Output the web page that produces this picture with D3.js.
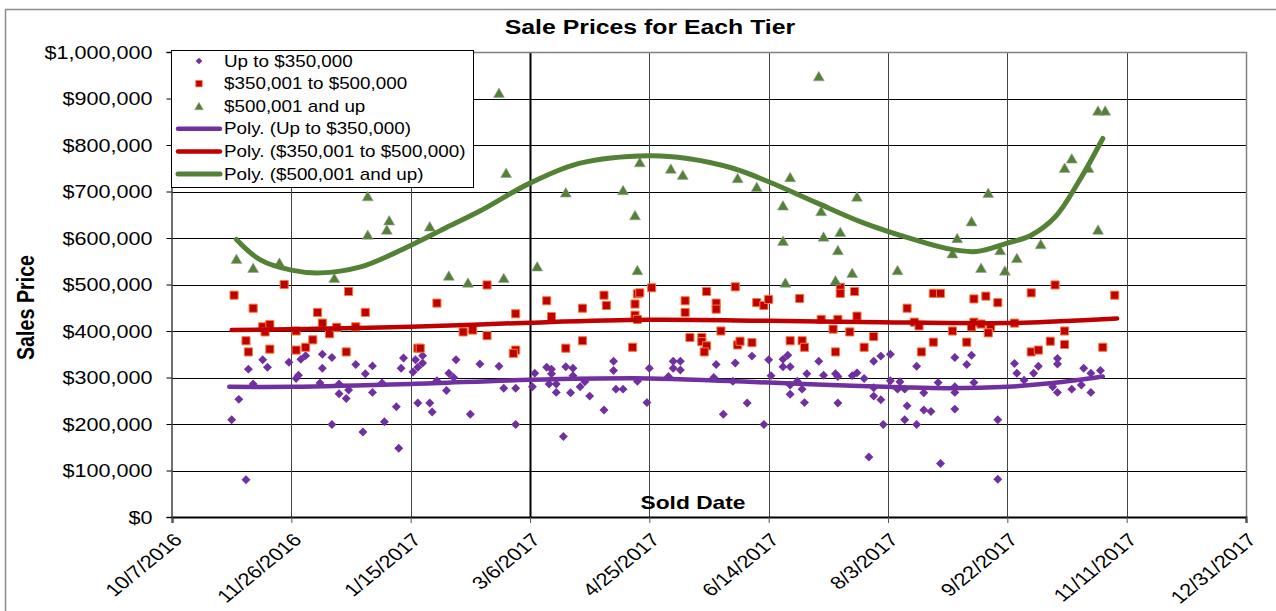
<!DOCTYPE html>
<html>
<head>
<meta charset="utf-8">
<script src="https://cdn.jsdelivr.net/npm/d3@7"></script>
<style>
  body { margin: 0; background: #fff; }
  svg { display: block; }
  text { font-family: "Liberation Sans", Arial, sans-serif; fill: #000; }
</style>
</head>
<body>
<svg id="chart" width="1276" height="611"></svg>
<script>
// sold dates are Excel serial numbers, prices in dollars
var upTo350k = [[42675,209000],[42678,253000],[42681,80000],[42682,318000],[42684,286000],[42688,338000],[42690,322000],[42699,333000],[42702,298000],[42703,305000],[42704,339000],[42706,347000],[42712,288000],[42713,350000],[42713,320000],[42717,343000],[42717,199000],[42720,286000],[42720,265000],[42723,255000],[42724,273000],[42727,328000],[42730,183000],[42731,308000],[42734,325000],[42734,268000],[42738,288000],[42739,205000],[42744,237000],[42745,148000],[42746,320000],[42747,342000],[42751,312000],[42752,338000],[42753,322000],[42753,245000],[42755,347000],[42755,331000],[42758,245000],[42759,226000],[42761,293000],[42765,272000],[42766,309000],[42768,300000],[42769,338000],[42775,221000],[42779,329000],[42787,324000],[42789,277000],[42794,277000],[42794,199000],[42801,280000],[42802,309000],[42807,322000],[42809,318000],[42809,308000],[42808,286000],[42811,286000],[42811,268000],[42815,323000],[42818,320000],[42818,304000],[42817,267000],[42821,280000],[42823,291000],[42825,260000],[42814,173000],[42831,230000],[42835,335000],[42835,315000],[42836,275000],[42839,275000],[42845,292000],[42849,246000],[42850,320000],[42858,302000],[42860,335000],[42860,320000],[42863,335000],[42863,316000],[42878,328000],[42877,300000],[42881,221000],[42886,331000],[42885,292000],[42891,245000],[42893,346000],[42898,199000],[42900,338000],[42901,304000],[42906,339000],[42908,348000],[42906,323000],[42909,323000],[42909,284000],[42909,264000],[42912,292000],[42914,275000],[42915,246000],[42916,308000],[42921,335000],[42923,305000],[42928,308000],[42929,302000],[42929,245000],[42935,304000],[42937,310000],[42940,298000],[42944,335000],[42947,346000],[42951,350000],[42951,293000],[42944,260000],[42947,252000],[42948,199000],[42942,129000],[42944,278000],[42955,291000],[42954,275000],[42957,275000],[42958,239000],[42957,209000],[42962,324000],[42962,199000],[42965,267000],[42965,230000],[42968,227000],[42971,289000],[42972,115000],[42978,343000],[42978,280000],[42978,268000],[42978,232000],[42983,328000],[42985,348000],[42986,289000],[42996,209000],[42996,81000],[43003,330000],[43004,309000],[43007,294000],[43011,309000],[43013,324000],[43019,280000],[43021,341000],[43021,329000],[43021,268000],[43027,275000],[43031,284000],[43032,320000],[43035,309000],[43035,268000],[43039,315000]];

var from350kTo500k = [[42676,477000],[42684,449000],[42688,409000],[42691,414000],[42689,398000],[42681,379000],[42682,355000],[42691,361000],[42697,500000],[42702,400000],[42702,359000],[42706,365000],[42709,381000],[42711,440000],[42713,417000],[42716,394000],[42719,408000],[42723,355000],[42724,485000],[42727,409000],[42731,440000],[42753,363000],[42754,363000],[42761,460000],[42772,398000],[42776,402000],[42782,499000],[42782,390000],[42794,437000],[42794,359000],[42793,352000],[42807,465000],[42809,431000],[42815,363000],[42822,449000],[42822,379000],[42831,477000],[42832,455000],[42844,458000],[42844,434000],[42845,425000],[42843,365000],[42845,480000],[42846,482000],[42851,493000],[42865,465000],[42865,440000],[42867,386000],[42872,386000],[42872,377000],[42874,368000],[42873,355000],[42874,485000],[42878,460000],[42878,447000],[42880,400000],[42886,495000],[42887,370000],[42888,378000],[42893,375000],[42895,461000],[42898,455000],[42900,468000],[42909,379000],[42913,470000],[42914,379000],[42915,365000],[42922,425000],[42927,404000],[42928,355000],[42929,425000],[42930,494000],[42930,481000],[42934,398000],[42936,485000],[42937,432000],[42944,388000],[42940,365000],[42958,449000],[42961,419000],[42963,411000],[42964,355000],[42969,481000],[42972,481000],[42969,376000],[42977,400000],[42983,376000],[42986,469000],[42986,419000],[42985,409000],[42989,415000],[42991,475000],[42993,409000],[42992,396000],[42996,461000],[43003,417000],[43010,482000],[43010,355000],[43013,359000],[43018,378000],[43020,499000],[43024,400000],[43024,371000],[43040,365000],[43045,477000]];

var over500k = [[42677,554000],[42684,535000],[42695,546000],[42718,513000],[42732,689000],[42732,606000],[42741,637000],[42740,617000],[42758,624000],[42766,518000],[42774,503000],[42787,911000],[42789,513000],[42790,739000],[42803,538000],[42815,697000],[42839,702000],[42844,648000],[42846,762000],[42845,530000],[42859,748000],[42864,735000],[42887,728000],[42895,709000],[42909,730000],[42906,669000],[42921,947000],[42922,657000],[42937,688000],[42930,612000],[42923,602000],[42906,593000],[42929,573000],[42907,503000],[42935,524000],[42928,508000],[42954,530000],[42979,599000],[42977,566000],[42997,573000],[43014,586000],[43004,556000],[42989,535000],[42999,529000],[43038,617000],[43038,873000],[43041,873000],[43027,770000],[43024,750000],[43034,750000],[42992,696000],[42985,635000]];

// Poly. trendlines, values
var trendUpTo350k = [[42674,280000],[42700,280000],[42750,286000],[42800,295000],[42850,298000],[42880,293000],[42900,289000],[42935,282000],[42955,279000],[42975,277000],[43000,280000],[43019,288000],[43040,302000]];
var trend350kTo500k = [[42675,402000],[42700,404000],[42750,409000],[42800,418000],[42850,424000],[42900,422000],[42947,419000],[43000,417000],[43022,421000],[43046,427000]];
var trendOver500k = [[42677,597000],[42687,553000],[42700,531000],[42712,525000],[42729,538000],[42743,567000],[42754,594000],[42764,620000],[42779,658000],[42800,718000],[42821,761000],[42850,777000],[42866,771000],[42885,750000],[42900,721000],[42920,676000],[42940,632000],[42960,598000],[42975,577000],[42987,571000],[43000,589000],[43010,606000],[43020,645000],[43030,722000],[43040,814000]];

var seriesNames = ['Up to $350,000', '$350,001 to $500,000', '$500,001 and up'];
var xTicks = d3.range(42650, 43101, 50);   // 10/7/2016 ... 12/31/2017
var yTicks = d3.range(0, 1000001, 100000);

var colors = ['#7030a0', '#c00000', '#538135'];
var plot = { left: 172, right: 1246, top: 52, bottom: 517 };

var svg = d3.select('#chart');

var x = d3.scaleLinear().domain([42650, 43100]).range([plot.left, plot.right]);
var y = d3.scaleLinear().domain([0, 1000000]).range([plot.bottom, plot.top]);

// excel serial -> m/d/yyyy
var serialToDate = function(s){
  var d = new Date(Date.UTC(1899, 11, 30) + s * 864e5);
  return (d.getUTCMonth() + 1) + '/' + d.getUTCDate() + '/' + d.getUTCFullYear();
}

// source picture is stretched sideways, so widen text the same way
var stretch = function(sel, sx){
  sel.each(function(){
    var w = this.getComputedTextLength();
    d3.select(this).attr('textLength', w * sx).attr('lengthAdjust', 'spacingAndGlyphs');
  });
}

// outer chart border
svg.append('path').attr('d', 'M5.5,611V9.5H1276')
   .attr('fill', 'none').attr('stroke', '#8c8c8c').attr('stroke-width', 1.5);

// gridlines
svg.append('g').selectAll('line').data(yTicks.slice(1, -1)).enter().append('line')
   .attr('x1', plot.left).attr('x2', plot.right)
   .attr('y1', function(d){ return Math.round(y(d)) + 0.5; })
   .attr('y2', function(d){ return Math.round(y(d)) + 0.5; })
   .attr('stroke', '#000').attr('stroke-width', 1);

svg.append('g').selectAll('line').data(xTicks.slice(1, -1)).enter().append('line')
   .attr('x1', function(d){ return Math.round(x(d)) + 0.5; })
   .attr('x2', function(d){ return Math.round(x(d)) + 0.5; })
   .attr('y1', plot.top).attr('y2', plot.bottom)
   .attr('stroke', function(d){ return d === 42800 ? '#000' : '#444'; })
   .attr('stroke-width', function(d){ return d === 42800 ? 2 : 1; });

// plot frame top / right
svg.append('path').attr('d', 'M' + plot.left + ',' + (plot.top + 0.5) + 'H' + (plot.right + 0.5) + 'V' + plot.bottom)
   .attr('fill', 'none').attr('stroke', '#808080').attr('stroke-width', 1.5);

// y axis
var yAxis = svg.append('g')
   .attr('transform', 'translate(' + (plot.left - 0.5) + ',0)')
   .call(d3.axisLeft(y).tickValues(yTicks).tickFormat(d3.format('$,')).tickSize(5).tickPadding(14));
yAxis.select('.domain').attr('stroke', '#404040').attr('stroke-width', 1.5);
yAxis.selectAll('.tick line').attr('stroke', '#000');
yAxis.selectAll('.tick text').attr('font-size', 17.7).attr('dy', '0.36em')
   .attr('font-family', '"Liberation Sans", Arial, sans-serif').attr('fill', '#000')
   .call(stretch, 1.22);

// x axis
var xAxis = svg.append('g')
   .attr('transform', 'translate(0,' + plot.bottom + ')')
   .call(d3.axisBottom(x).tickValues(xTicks).tickFormat(serialToDate).tickSize(6));
xAxis.select('.domain').attr('stroke', '#000').attr('stroke-width', 2);
xAxis.selectAll('.tick line').attr('stroke', '#555');
xAxis.selectAll('.tick text')
   .attr('font-size', 18).attr('font-family', '"Liberation Sans", Arial, sans-serif').attr('fill', '#000')
   .attr('text-anchor', 'end').attr('y', 0).attr('dy', 0)
   .attr('transform', 'translate(11,24) scale(1.22,1) rotate(-45)');

// markers
var diamond = d3.symbol(d3.symbolSquare, 40)();
var square = d3.symbol(d3.symbolSquare, 66)();
var triangle = d3.symbol(d3.symbolTriangle, 52)();

svg.append('g').selectAll('path').data(upTo350k).enter().append('path')
   .attr('d', diamond)
   .attr('transform', function(d){ return 'translate(' + x(d[0]) + ',' + y(d[1]) + ') rotate(45)'; })
   .attr('fill', colors[0]);

svg.append('g').selectAll('path').data(from350kTo500k).enter().append('path')
   .attr('d', square)
   .attr('transform', function(d){ return 'translate(' + x(d[0]) + ',' + y(d[1]) + ')'; })
   .attr('fill', colors[1]).attr('stroke', '#f47b3a').attr('stroke-width', 1);

svg.append('g').selectAll('path').data(over500k).enter().append('path')
   .attr('d', triangle)
   .attr('transform', function(d){ return 'translate(' + x(d[0]) + ',' + (y(d[1]) + 1) + ')'; })
   .attr('fill', colors[2]).attr('stroke', '#a0a0a0').attr('stroke-width', 0.6);

// trendlines
var line = d3.line().curve(d3.curveCatmullRom)
   .x(function(d){ return x(d[0]); }).y(function(d){ return y(d[1]); });
[trendUpTo350k, trend350kTo500k, trendOver500k].forEach(function(pts, i){
  svg.append('path').datum(pts).attr('d', line)
     .attr('fill', 'none').attr('stroke', colors[i])
     .attr('stroke-width', i === 2 ? 5 : 4.5).attr('stroke-linecap', 'round');
});

// titles
svg.append('text').attr('x', 650).attr('y', 34).attr('text-anchor', 'middle')
   .attr('font-size', 20).attr('font-weight', 'bold').text('Sale Prices for Each Tier')
   .call(stretch, 1.24);

svg.append('text').attr('x', 693).attr('y', 509).attr('text-anchor', 'middle')
   .attr('font-size', 18.5).attr('font-weight', 'bold').text('Sold Date')
   .call(stretch, 1.23);

svg.append('text').attr('text-anchor', 'middle')
   .attr('transform', 'translate(33.5,307.5) scale(1.22,1) rotate(-90)')
   .attr('font-size', 19.7).attr('font-weight', 'bold').text('Sales Price');

// legend
var legend = svg.append('g');
legend.append('rect').attr('x', 171.5).attr('y', 50.5).attr('width', 302).attr('height', 137)
   .attr('fill', '#fff').attr('stroke', '#000').attr('stroke-width', 1);

var legendRows = seriesNames.concat(seriesNames.map(function(n){ return 'Poly. (' + n + ')'; }));
var markerPaths = [diamond, square, triangle];

legendRows.forEach(function(label, i){
  var ry = 61 + i * 22.6;
  if(i < 3){
    legend.append('path').attr('d', markerPaths[i])
       .attr('transform', 'translate(199,' + (ry + (i === 2 ? 1 : 0)) + ')' + (i === 0 ? ' rotate(45) scale(0.75)' : ' scale(0.8)'))
       .attr('fill', colors[i])
       .attr('stroke', i === 1 ? '#f47b3a' : (i === 2 ? '#a0a0a0' : 'none'))
       .attr('stroke-width', i === 2 ? 0.6 : 1);
  } else {
    legend.append('line').attr('x1', 178).attr('x2', 220).attr('y1', ry).attr('y2', ry)
       .attr('stroke', colors[i - 3]).attr('stroke-width', i === 5 ? 5 : 4.5).attr('stroke-linecap', 'round');
  }
  legend.append('text').attr('x', 224).attr('y', ry + 5.6)
     .attr('font-size', 15.7).text(label)
     .call(stretch, 1.2);
});
</script>
</body>
</html>
